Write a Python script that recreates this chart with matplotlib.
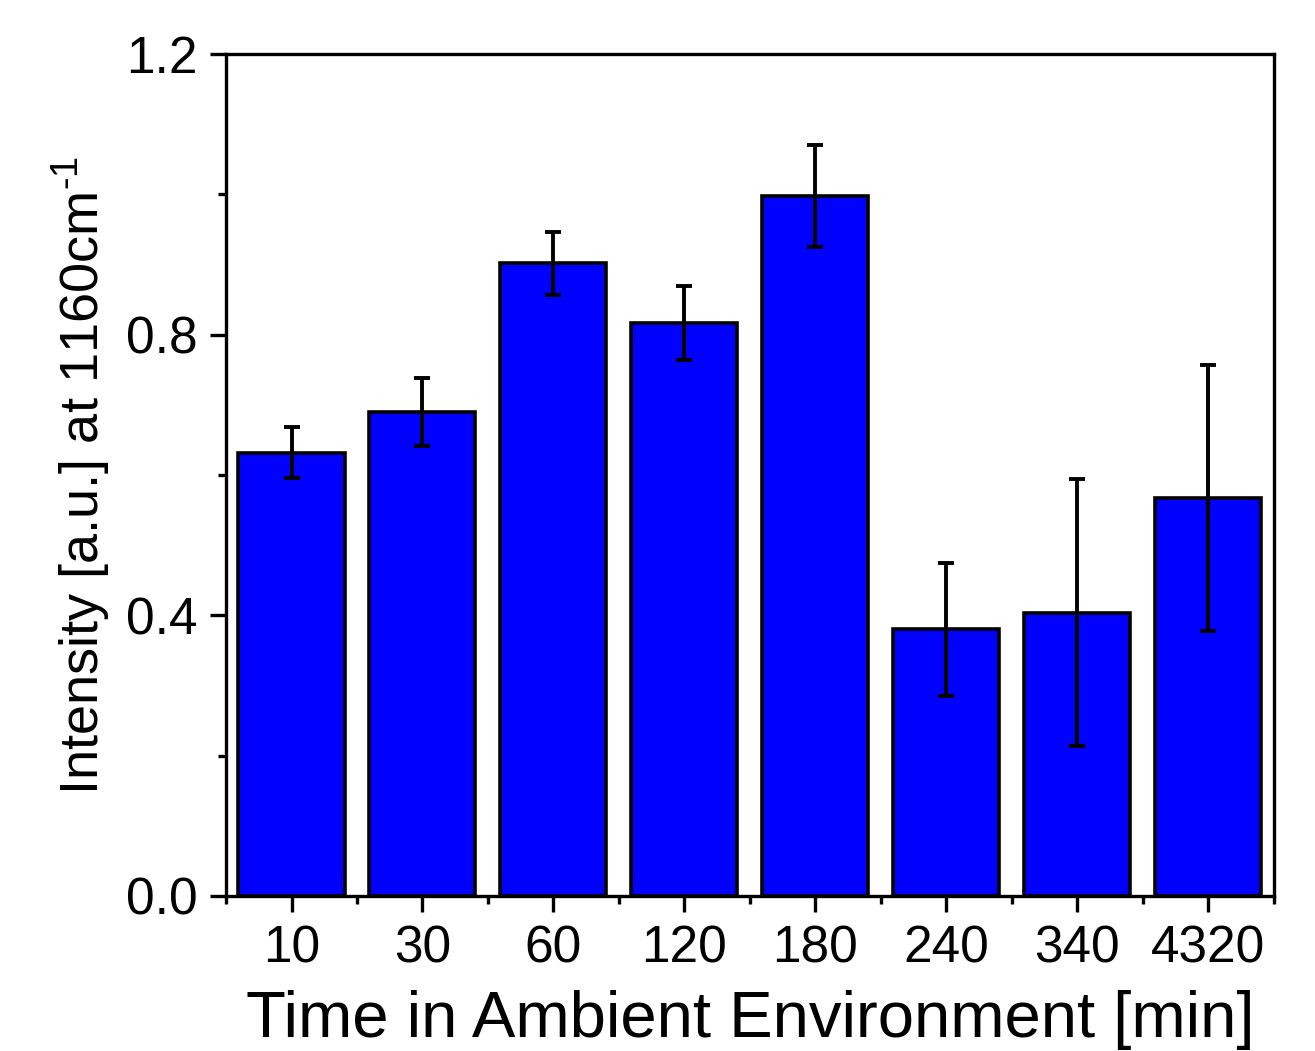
import matplotlib.pyplot as plt
import numpy as np
from matplotlib.ticker import MultipleLocator

plt.rcParams['font.family'] = ['Liberation Sans', 'DejaVu Sans']
plt.rcParams['mathtext.fontset'] = 'custom'
plt.rcParams['mathtext.rm'] = 'Liberation Sans'

# Data
times = ['10', '30', '60', '120', '180', '240', '340', '4320']
intensity = [0.632, 0.690, 0.902, 0.817, 0.998, 0.380, 0.404, 0.567]
err = [0.036, 0.048, 0.045, 0.053, 0.073, 0.095, 0.190, 0.190]

fig = plt.figure(figsize=(13.15, 10.51), dpi=100)
ax = fig.add_axes([0.1719, 0.1475, 0.7966, 0.8011])

x = np.arange(len(times))
ax.bar(x, intensity, width=0.81, color='#0000ff', edgecolor='black', linewidth=2.6, zorder=2)
ax.errorbar(x, intensity, yerr=err, fmt='none', ecolor='black', elinewidth=2.8,
            capsize=6, capthick=2.8, zorder=3)

ax.set_xlim(-0.5, len(times) - 0.5)
ax.set_ylim(0, 1.2)
ax.set_xticks(x)
ax.set_xticklabels(times)
ax.set_xticks(np.arange(-0.5, len(times), 1.0), minor=True)
ax.yaxis.set_major_locator(MultipleLocator(0.4))
ax.yaxis.set_minor_locator(MultipleLocator(0.2))
ax.yaxis.set_major_formatter(plt.FuncFormatter(lambda v, p: f'{v:.1f}'))

for s in ax.spines.values():
    s.set_linewidth(2.4)
ax.tick_params(which='major', direction='out', length=11.5, width=2.4, labelsize=37, pad=9)
ax.tick_params(which='minor', direction='out', length=5.5, width=2.4)

ax.set_xlabel('Time in Ambient Environment [min]', fontsize=47, labelpad=12)
ax.set_ylabel('Intensity [a.u.] at 1160cm$^{\\text{-}1}$', fontsize=39, labelpad=9)

plt.savefig('out.png', dpi=100)
